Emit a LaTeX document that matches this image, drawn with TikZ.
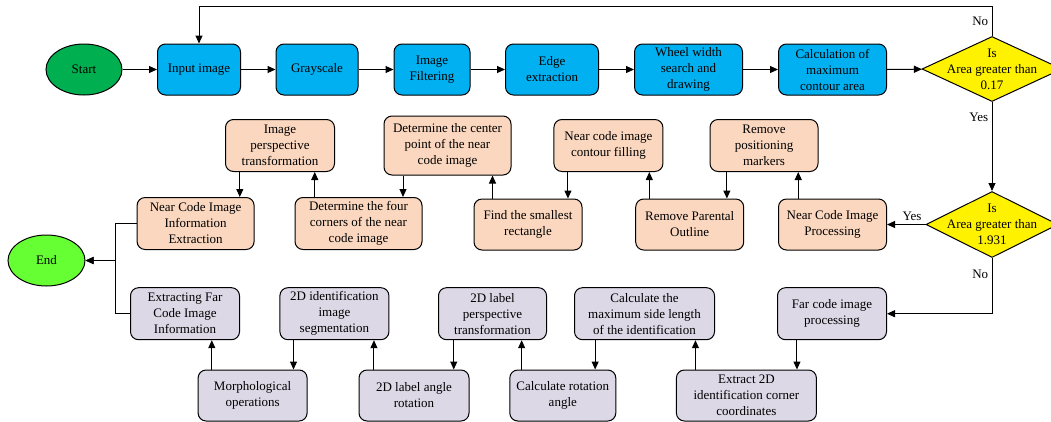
\documentclass[tikz,border=0pt]{standalone}
\usepackage{fontspec}
\setmainfont{Liberation Serif}
\usetikzlibrary{arrows.meta,shapes.geometric,calc}

\definecolor{procblue}{RGB}{0,176,240}
\definecolor{nearpeach}{RGB}{250,215,190}
\definecolor{farlilac}{RGB}{221,216,230}
\definecolor{startgreen}{RGB}{0,176,80}
\definecolor{endgreen}{RGB}{102,255,51}

\begin{document}
\begin{tikzpicture}[x=1pt,y=-1pt,>={Triangle[length=8pt,width=7pt]},
        line width=1pt,font=\fontsize{13}{16}\selectfont,
        box size/.style 2 args={minimum width=#1pt,minimum height=#2pt},
        main box/.style={draw,rounded corners=8pt,align=center,inner sep=1pt},
        blue box/.style={main box,fill=procblue},
        near box/.style={main box,fill=nearpeach},
        far box/.style={main box,fill=farlilac},
        end node/.style={ellipse,draw,inner sep=0pt},
        decision/.style={diamond,draw,fill=yellow,inner sep=0pt},
        link/.style={->}]
        \useasboundingbox (0,0) rectangle (1051,421);

        % main line
        \node[end node,fill=startgreen,box size={76}{51}] (start) at (84,69.5) {Start};
        \node[blue box,box size={83}{51}] (input) at (199,69.5) {Input image};
        \node[blue box,box size={82}{51}] (gray) at (317,69.5) {Grayscale};
        \node[blue box,box size={76}{51}] (filt) at (432,69.5) {Image\\Filtering};
        \node[blue box,box size={93}{51}] (edge) at (552,69.5) {Edge\\extraction};
        \node[blue box,box size={108}{51}] (wheel) at (688.5,69.5) {Wheel width\\search and\\drawing};
        \node[blue box,box size={108}{51}] (area) at (832.5,69.5) {Calculation of\\maximum\\contour area};
        \node[decision,box size={140}{65},
              label={[align=center]center:Is\\Area greater than\\0.17}] (dec1) at (992,69) {};
        \node[decision,box size={132}{66},
              label={[align=center]center:Is\\Area greater than\\1.931}] (dec2) at (992,224.5) {};

        % near code branch
        \node[near box,box size={108}{51}] (ncip) at (832.5,224.5) {Near Code Image\\Processing};
        \node[near box,box size={108}{52}] (markers) at (764,145.5) {Remove\\positioning\\markers};
        \node[near box,box size={108}{51}] (parental) at (689.7,224.5) {Remove Parental\\Outline};
        \node[near box,box size={109}{52}] (fill) at (608.4,145.5) {Near code image\\contour filling};
        \node[near box,box size={108}{51}] (smallest) at (528,224.5) {Find the smallest\\rectangle};
        \node[near box,box size={127}{59}] (center) at (447.5,145.5) {Determine the center\\point of the near\\code image};
        \node[near box,box size={127}{52}] (corners) at (358.5,223.5) {Determine the four\\corners of the near\\code image};
        \node[near box,box size={109}{52}] (persp) at (280,145.5) {Image\\perspective\\transformation};
        \node[near box,box size={117}{52}] (nciie) at (195.6,223.5) {Near Code Image\\Information\\Extraction};

        \node[end node,fill=endgreen,box size={77}{51}] (end) at (46.5,260.5) {End};
        \coordinate (join) at (115,260.5);

        % far code branch
        \node[far box,box size={109}{52}] (farproc) at (832,313.7) {Far code image\\processing};
        \node[far box,box size={140}{51}] (cc) at (746.4,395.5) {Extract 2D\\identification corner\\coordinates};
        \node[far box,box size={140}{52}] (maxside) at (644.5,313.7) {Calculate the\\maximum side length\\of the identification};
        \node[far box,box size={106}{51}] (rotcalc) at (562.8,395.5) {Calculate rotation\\angle};
        \node[far box,box size={108}{52}] (lblpersp) at (492.5,313.7) {2D label\\perspective\\transformation};
        \node[far box,box size={110}{51}] (angle) at (414,395.5) {2D label angle\\rotation};
        \node[far box,box size={109}{52}] (seg) at (334.4,313.7) {2D identification\\image\\segmentation};
        \node[far box,box size={109}{51}] (morph) at (252.6,395.5) {Morphological\\operations};
        \node[far box,box size={109}{52}] (extractfar) at (185,313.7) {Extracting Far\\Code Image\\Information};

        \foreach \a/\b in {start/input,input/gray,gray/filt,filt/edge,edge/wheel,wheel/area,area/dec1}
            \draw[link] (\a) -- (\b);

        \coordinate (loop) at (992,6.8);
        \draw[link] (dec1.north) -- node[left] {No} (loop) -| (input.north);
        \draw[link] (dec1.south) -- node[left,pos=0.17] {Yes} (dec2.north);
        \draw[link] (dec2.west) -- node[above,pos=0.35] {Yes} (ncip.east);
        \draw[link] (dec2.south) |- node[left,pos=0.15] {No} (farproc.east);

        % links going up
        \foreach \a/\b/\dx in {ncip/markers/0,parental/fill/0,smallest/center/0,corners/persp/0,
                               cc/maxside/0,rotcalc/lblpersp/-6.5,angle/seg/0,morph/extractfar/-7} {
            \coordinate (m) at ($(\a.west)!.5!(\b.east)+(\dx,0)$);
            \draw[link] (m |- \a.north) -- (m |- \b.south);
        }
        % links going down
        \foreach \a/\b in {markers/parental,fill/smallest,center/corners,persp/nciie,
                           farproc/cc,maxside/rotcalc,lblpersp/angle,seg/morph} {
            \coordinate (m) at ($(\a.west)!.5!(\b.east)$);
            \draw[link] (m |- \a.south) -- (m |- \b.north);
        }

        \draw[link] (nciie.west) -| (join) -- (end.east);
        \draw[link] (extractfar.west) -| (join) -- (end.east);
\end{tikzpicture}
\end{document}
